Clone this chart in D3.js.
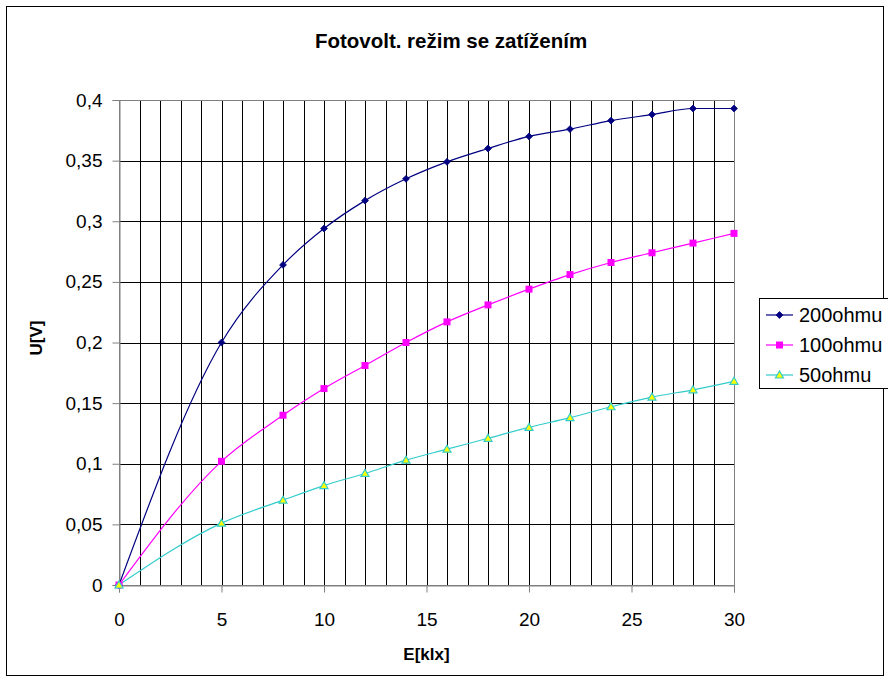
<!DOCTYPE html>
<html><head><meta charset="utf-8">
<script src="https://cdn.jsdelivr.net/npm/d3@7"></script>
<style>body{margin:0;background:#fff;}svg{display:block;font-family:"Liberation Sans",Arial,sans-serif;}</style>
</head><body>
<svg id="c" width="888" height="681"></svg>
<script>
const E = [0, 5, 8, 10, 12, 14, 16, 18, 20, 22, 24, 26, 28, 30];
const U200 = [0, 0.200, 0.264, 0.294, 0.317, 0.335, 0.349, 0.360, 0.370, 0.376, 0.383, 0.388, 0.393, 0.393];
const U100 = [0, 0.102, 0.140, 0.162, 0.181, 0.200, 0.217, 0.231, 0.244, 0.256, 0.266, 0.274, 0.282, 0.290];
const U50  = [0, 0.051, 0.070, 0.082, 0.092, 0.103, 0.112, 0.121, 0.130, 0.138, 0.147, 0.155, 0.161, 0.168];
const seriesNames = ["200ohmu", "100ohmu", "50ohmu"];
const xTicks = [0, 5, 10, 15, 20, 25, 30];
const yTicks = [0, 0.05, 0.1, 0.15, 0.2, 0.25, 0.3, 0.35, 0.4];
const title = "Fotovolt. režim se zatížením";

const svg = d3.select("#c");
const L = 119, R = 734, T = 100, B = 585;
const x = d3.scaleLinear().domain([0, 30]).range([L, R]);
const y = d3.scaleLinear().domain([0, 0.4]).range([B, T]);
const FONT = '"Liberation Sans",Arial,sans-serif';

// outer border
svg.append("rect").attr("x", 6.5).attr("y", 6.5).attr("width", 877).attr("height", 669)
  .attr("fill", "#fff").attr("stroke", "#000").attr("stroke-width", 1);

// gridlines
const g = svg.append("g");
g.selectAll("line.v").data(d3.range(1, 30)).join("line")
  .attr("x1", d => Math.round(x(d)) + 0.5).attr("x2", d => Math.round(x(d)) + 0.5)
  .attr("y1", T).attr("y2", B).attr("stroke", "#000").attr("stroke-width", 1);
g.selectAll("line.h").data(yTicks.slice(1, -1)).join("line")
  .attr("y1", d => Math.round(y(d)) + 0.5).attr("y2", d => Math.round(y(d)) + 0.5)
  .attr("x1", L).attr("x2", R).attr("stroke", "#000").attr("stroke-width", 1);
// plot border
svg.append("rect").attr("x", L + 0.5).attr("y", T + 0.5).attr("width", R - L).attr("height", B - T)
  .attr("fill", "none").attr("stroke", "#808080").attr("stroke-width", 1);

// axes
const fmt = d => String(d).replace(".", ",");
const xAxis = svg.append("g").attr("transform", `translate(0,${B + 0.5})`)
  .call(d3.axisBottom(x).tickValues(xTicks).tickSize(7).tickPadding(20).tickFormat(fmt));
const yAxis = svg.append("g").attr("transform", `translate(${L + 0.5},0)`)
  .call(d3.axisLeft(y).tickValues(yTicks).tickSize(7).tickPadding(10).tickFormat(fmt));
[xAxis, yAxis].forEach(a => {
  a.select(".domain").attr("stroke", "#808080");
  a.selectAll(".tick line").attr("stroke", "#808080");
  a.selectAll("text").attr("font-size", 19).attr("fill", "#000").attr("font-family", FONT);
});

// series
const cols = ["#000080", "#ff00ff", "#33cccc"];
const data = [U200, U100, U50];
const line = d3.line().x(d => x(d[0])).y(d => y(d[1])).curve(d3.curveMonotoneX);
data.forEach((vals, i) => {
  const pts = E.map((e, j) => [e, vals[j]]);
  svg.append("path").attr("d", line(pts)).attr("fill", "none").attr("stroke", cols[i]).attr("stroke-width", 1.2);
});
function marker(sel, i) {
  if (i === 0) sel.append("path").attr("d", d3.symbol(d3.symbolDiamond2, 30)()).attr("fill", "#000080").attr("stroke", "#000080").attr("stroke-width", 0.8);
  else if (i === 1) sel.append("rect").attr("x", -3.5).attr("y", -3.5).attr("width", 7).attr("height", 7).attr("fill", "#ff00ff");
  else sel.append("path").attr("d", "M0,-4L4,3L-4,3Z").attr("fill", "#ffff00").attr("stroke", "#33cccc").attr("stroke-width", 1.2);
}
data.forEach((vals, i) => {
  E.forEach((e, j) => {
    const m = svg.append("g").attr("transform", `translate(${x(e)},${y(vals[j])})`);
    marker(m, i);
  });
});

// title & axis titles
svg.append("text").attr("x", 451).attr("y", 48).attr("text-anchor", "middle")
  .attr("font-size", 20.5).attr("font-weight", "bold").text(title);
svg.append("text").attr("x", (L + R) / 2).attr("y", 660).attr("text-anchor", "middle")
  .attr("font-size", 17).attr("font-weight", "bold").text("E[klx]");
svg.append("text").attr("transform", `translate(42,338) rotate(-90)`).attr("text-anchor", "middle")
  .attr("font-size", 17).attr("font-weight", "bold").text("U[V]");

// legend
const lg = svg.append("g");
lg.append("rect").attr("x", 759.5).attr("y", 298.5).attr("width", 140).attr("height", 90)
  .attr("fill", "#fff").attr("stroke", "#000");
seriesNames.forEach((n, i) => {
  const yy = 315 + i * 30;
  lg.append("line").attr("x1", 766).attr("x2", 793).attr("y1", yy).attr("y2", yy).attr("stroke", cols[i]).attr("stroke-width", 1.2);
  const m = lg.append("g").attr("transform", `translate(779.5,${yy})`);
  marker(m, i);
  lg.append("text").attr("x", 799).attr("y", yy + 7).attr("font-size", 20).text(n);
});
</script>
</body></html>
